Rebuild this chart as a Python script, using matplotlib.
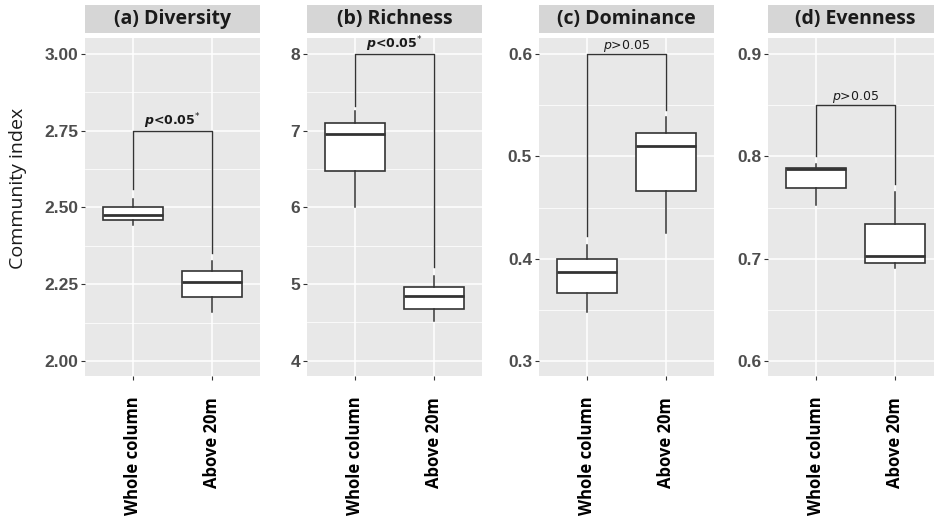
import matplotlib.pyplot as plt
from matplotlib.patches import Rectangle
from matplotlib.ticker import MultipleLocator

# Community indices, two depth groups per panel
titles = ["(a) Diversity", "(b) Richness", "(c) Dominance", "(d) Evenness"]
groups = ["Whole column", "Above 20m"]

q1 = [[2.458, 2.207], [6.48, 4.67], [0.367, 0.466], [0.769, 0.696]]
med = [[2.476, 2.256], [6.96, 4.846], [0.387, 0.510], [0.788, 0.703]]
q3 = [[2.500, 2.292], [7.10, 4.967], [0.400, 0.523], [0.789, 0.734]]
whislo = [[2.444, 2.158], [6.00, 4.523], [0.348, 0.425], [0.752, 0.691]]
whishi = [[2.529, 2.327], [7.255, 5.111], [0.413, 0.538], [0.792, 0.765]]

# significance brackets
p_labels = [r"$\mathbfit{p}$<0.05$^{*}$", r"$\mathbfit{p}$<0.05$^{*}$",
            r"$\mathit{p}$>0.05", r"$\mathit{p}$>0.05"]
p_bold = [True, True, False, False]
bracket_top = [2.75, 8.0, 0.6, 0.85]
bracket_left = [2.56, 7.32, 0.422, 0.80]
bracket_right = [2.353, 5.22, 0.545, 0.773]

y_lims = [(1.951, 3.052), (3.80, 8.21), (0.2855, 0.6155), (0.5855, 0.9155)]
y_major = [0.25, 1.0, 0.1, 0.1]
y_fmt = ["{:.2f}", "{:.0f}", "{:.1f}", "{:.1f}"]

W, H = 934, 524
lefts = [85, 307, 539, 768]
panel_w = 175
top_px, bot_px = 38, 376

plt.rcParams['mathtext.fontset'] = 'dejavusans'

fig = plt.figure(figsize=(W / 100, H / 100), dpi=100)

for i in range(4):
    ax = fig.add_axes([lefts[i] / W, (H - bot_px) / H, panel_w / W, (bot_px - top_px) / H])
    ax.set_facecolor('#E8E8E8')
    for s in ax.spines.values():
        s.set_visible(False)

    stats = []
    for j in range(2):
        stats.append(dict(q1=q1[i][j], med=med[i][j], q3=q3[i][j],
                          whislo=whislo[i][j], whishi=whishi[i][j], fliers=[]))
    ax.bxp(stats, positions=[1, 2], widths=0.75, showcaps=False, patch_artist=True,
           boxprops=dict(facecolor='white', edgecolor='#333333', linewidth=1.2),
           medianprops=dict(color='#333333', linewidth=2.0),
           whiskerprops=dict(color='#333333', linewidth=1.1), zorder=3)

    ax.set_xlim(0.4, 2.6)
    ax.set_ylim(*y_lims[i])
    ax.yaxis.set_major_locator(MultipleLocator(y_major[i]))
    ax.yaxis.set_minor_locator(MultipleLocator(y_major[i] / 2))
    ax.grid(True, which='major', color='white', linewidth=1.1, zorder=0)
    ax.grid(True, which='minor', axis='y', color='white', linewidth=0.55, zorder=0)
    ax.set_axisbelow(True)

    ticks = ax.get_yticks()
    ax.set_yticks(ticks)
    ax.set_yticklabels([y_fmt[i].format(t) for t in ticks])
    ax.set_ylim(*y_lims[i])
    ax.set_xticks([1, 2])
    ax.set_xticklabels(groups, rotation=90, fontsize=12, fontweight='bold',
                       family='Open Sans', color='black', va='top')
    ax.tick_params(axis='y', which='major', length=3, width=0.8, color='#333333',
                   labelsize=12.5, labelcolor='#4D4D4D', pad=2)
    ax.tick_params(axis='y', which='minor', length=0)
    ax.tick_params(axis='x', length=3, width=0.8, color='#333333', pad=12)
    for lab in ax.get_yticklabels():
        lab.set_fontweight('bold')
        lab.set_family('Liberation Sans')

    # bracket with p-value
    ax.plot([1, 1, 2, 2], [bracket_left[i], bracket_top[i], bracket_top[i], bracket_right[i]],
            color='#333333', linewidth=1.0, zorder=4)
    ax.text(1.5, bracket_top[i], p_labels[i], ha='center', va='bottom', fontsize=9,
            fontweight='bold' if p_bold[i] else 'normal', color='#1A1A1A')

    # facet strip
    ax.add_patch(Rectangle((0, 1 + 5 / 338), 1, 28 / 338, transform=ax.transAxes,
                           facecolor='#D6D6D6', edgecolor='none', clip_on=False))
    ax.text(0.5, 1 + 19 / 338, titles[i], transform=ax.transAxes, ha='center',
            va='center', fontsize=14, fontweight='bold', family='Open Sans', color='#1A1A1A')

fig.text(18 / W, 1 - 188 / H, "Community index", rotation=90, ha='center', va='center',
         fontsize=14, family='Open Sans', color='#1A1A1A')

fig.savefig('out.png', dpi=100)
